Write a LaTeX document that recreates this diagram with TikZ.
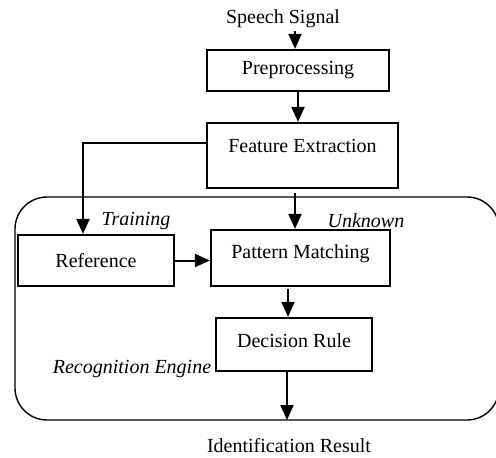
\documentclass[tikz,border=0pt]{standalone}
\usepackage{fontspec}
\setmainfont{Liberation Serif}
\usetikzlibrary{arrows.meta}
\begin{document}
\begin{tikzpicture}[x=1pt,y=-1pt,
  every node/.style={font=\fontsize{20}{23}\selectfont, inner sep=0pt},
  blk/.style={draw, line width=2.2pt, rectangle, minimum width=#1},
  lbl/.style={font=\fontsize{20}{23}\selectfont\itshape},
  flow/.style={line width=2pt, -{Triangle[width=13pt,length=15pt]}},
  engine/.style={line width=1.4pt, rounded corners=32pt}]
\useasboundingbox (0,0) rectangle (496,458);
\clip (0,0) rectangle (496,458);
% text labels
\node (sig) at (283,19) {Speech Signal};
\node (res) at (289,446) {Identification Result};
% engine frame
\draw[engine] (15,197) rectangle (499,420);
\coordinate (out) at (287,420);
% boxes
\node[blk=182pt, minimum height=41pt] (pre) at (298,70.5) {Preprocessing};
\node[blk=191pt, minimum height=65pt, text depth=20pt] (fe) at (302.5,155.5) {Feature Extraction};
\node[blk=156pt, minimum height=51pt] (ref) at (96,260.5) {Reference};
\node[blk=179pt, minimum height=56pt, text depth=12pt] (pm) at (300.5,258) {Pattern Matching};
\node[blk=156pt, minimum height=53pt, text depth=8pt] (dr) at (294,344.5) {Decision Rule};
% italic labels
\node[lbl] (tr) at (136,221) {Training};
\node[lbl] (un) at (366,221) {Unknown};
\node[lbl] (re) at (132,369) {Recognition Engine};
% connectors
\draw[flow] (sig.south -| pre.north) ++(-3,3) coordinate (s1) -- (s1 |- pre.north);
\draw[flow] (pre.south) -- (pre.south |- fe.north);
\coordinate (branch) at (83,143);
\draw[flow] (fe.west |- branch) -- (branch) -- (branch |- ref.north);
\draw[flow] (fe.south -| 295,0) ++(0,4) coordinate (f1) -- (f1 |- pm.north);
\draw[flow] (ref.east) -- (pm.west |- ref.east);
\draw[flow] (pm.south -| 288,0) ++(0,2) coordinate (p1) -- (p1 |- dr.north);
\draw[flow] (dr.south -| out) -- (out);
\end{tikzpicture}
\end{document}
